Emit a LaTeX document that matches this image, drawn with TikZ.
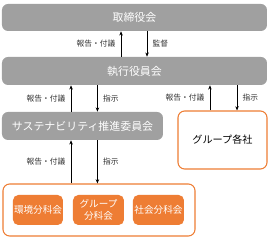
\documentclass[tikz,border=0pt]{standalone}
\usepackage{fontspec}
\setmainfont{Noto Sans CJK JP}
\usepackage{tikz}
\usetikzlibrary{positioning,arrows.meta}
\definecolor{boxgray}{HTML}{A0A0A0}
\definecolor{orangeline}{HTML}{EE7D34}
\definecolor{labelgray}{HTML}{333333}

\begin{document}
\begin{tikzpicture}[
    x=0.75pt, y=-0.75pt,
    graybox/.style={rectangle, rounded corners=4.5pt, fill=boxgray, draw=none, text=white, font=\fontsize{8.2}{9}\selectfont, inner sep=0pt},
    orangebox/.style={rectangle, rounded corners=4pt, fill=orangeline, draw=none, text=white, font=\fontsize{7.2}{8.5}\selectfont, align=center, inner sep=0pt, minimum height=22.5pt},
    framebox/.style={rectangle, rounded corners=5pt, draw=orangeline, line width=0.8pt, fill=white, inner sep=0pt},
    arrow/.style={-{Stealth[length=3.2pt,width=2.6pt]}, line width=0.5pt, black},
    lbl/.style={font=\fontsize{5.8}{7}\selectfont, text=labelgray, inner sep=4pt}
]
\useasboundingbox (0,0) rectangle (269,238);

% Nodes
\node[graybox, minimum width=198.75pt, minimum height=20.25pt] (board) at (134.5,17.5) {取締役会};
\node[graybox, minimum width=198.75pt, minimum height=21pt] (exec) at (134.5,71) {執行役員会};
\node[graybox, minimum width=120.75pt, minimum height=21pt] (sust) at (82.5,126) {サステナビリティ推進委員会};
\node[framebox, minimum width=66.75pt, minimum height=43.5pt, font=\fontsize{7.6}{9}\selectfont] (companies) at (222.5,140) {グループ各社};
\node[framebox, minimum width=144pt, minimum height=39pt] (subs) at (99,210) {};
\node[orangebox, minimum width=37.5pt] (env) at (38,210) {環境分科会};
\node[orangebox, minimum width=38.25pt] (grp) at (98.5,210) {グループ\\分科会};
\node[orangebox, minimum width=38.25pt] (soc) at (158.5,210) {社会分科会};

% Edges
\draw[arrow] ([xshift=-10.1pt]exec.north) -- node[lbl, left] {報告・付議} ([xshift=-10.1pt]board.south);
\draw[arrow] ([xshift=9.4pt]board.south) -- node[lbl, right] {監督} ([xshift=9.4pt]exec.north);
\draw[arrow] ([xshift=-8.6pt]sust.north) -- node[lbl, left] {報告・付議} ([xshift=-8.6pt]sust.north |- exec.south);
\draw[arrow] ([xshift=11.2pt]sust.north |- exec.south) -- node[lbl, right] {指示} ([xshift=11.2pt]sust.north);
\draw[arrow] ([xshift=-9.4pt]companies.north) -- node[lbl, left] {報告・付議} ([xshift=-9.4pt]companies.north |- exec.south);
\draw[arrow] ([xshift=10.9pt]companies.north |- exec.south) -- node[lbl, right] {指示} ([xshift=10.9pt]companies.north);
\draw[arrow] ([xshift=-8.6pt]sust.south |- subs.north) -- node[lbl, left] {報告・付議} ([xshift=-8.6pt]sust.south);
\draw[arrow] ([xshift=11.2pt]sust.south) -- node[lbl, right] {指示} ([xshift=11.2pt]sust.south |- subs.north);

\end{tikzpicture}
\end{document}
